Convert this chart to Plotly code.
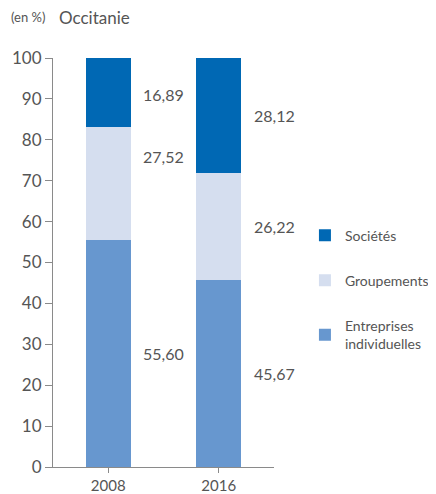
import plotly.graph_objects as go

# Occitanie - part des exploitations par statut (en %)
years = ["2008", "2016"]
entreprises = [55.60, 45.67]
groupements = [27.52, 26.22]
societes = [16.89, 28.12]
series_names = ["Entreprises<br>individuelles", "Groupements", "Sociétés"]
series_colors = ["#6797cf", "#d5deef", "#0068b4"]
label_y = [[27.8, 22.8], [75.8, 58.8], [91.0, 85.9]]  # where the value labels sit

grey = "#555555"
axis_grey = "#8a8a8a"

fig = go.Figure()
for i, (name, vals, col) in enumerate(zip(series_names, [entreprises, groupements, societes], series_colors)):
    fig.add_trace(go.Bar(x=[0, 1], y=vals, name=name, marker=dict(color=col, line=dict(width=0)),
                         width=0.41, legendgroup=str(i), legendrank=3 - i, hoverinfo="skip"))
    for j, v in enumerate(vals):
        fig.add_annotation(x=j + 0.5, y=label_y[i][j], text=f"{v:.2f}".replace(".", ","),
                           showarrow=False, xref="x", yref="y",
                           font=dict(size=16, color=grey))

# title pieces
fig.add_annotation(x=-0.2, y=1.1, xref="paper", yref="paper", text="(en %)", showarrow=False,
                   xanchor="left", yanchor="middle", font=dict(size=13, color=grey))
fig.add_annotation(x=0.02, y=1.1, xref="paper", yref="paper", text="Occitanie", showarrow=False,
                   xanchor="left", yanchor="middle", font=dict(size=17, color=grey))

# page body has an 8px margin, so the figure is drawn 8px smaller
fig.update_layout(
    width=428, height=486,
    margin=dict(l=45, r=162, t=50, b=27, autoexpand=False),
    barmode="stack",
    plot_bgcolor="white", paper_bgcolor="white",
    font=dict(family="Lato, sans-serif", color=grey),
    showlegend=True,
    legend=dict(x=1.14, y=0.605, xanchor="left", yanchor="top", traceorder="grouped",
                tracegroupgap=24, font=dict(size=14, color=grey), itemwidth=30),
    xaxis=dict(tickvals=[0, 1], ticktext=years, range=[-0.5, 1.5], showline=True, linecolor=axis_grey,
               ticks="outside", ticklen=5, tickcolor=axis_grey, tickfont=dict(size=15, color=grey),
               showgrid=False, zeroline=False),
    yaxis=dict(range=[0, 100], dtick=10, showline=True, linecolor=axis_grey, ticks="outside",
               ticklen=7, tickcolor=axis_grey, tickfont=dict(size=17, color=grey),
               showgrid=False, zeroline=False),
)
fig.write_html("out.html")
